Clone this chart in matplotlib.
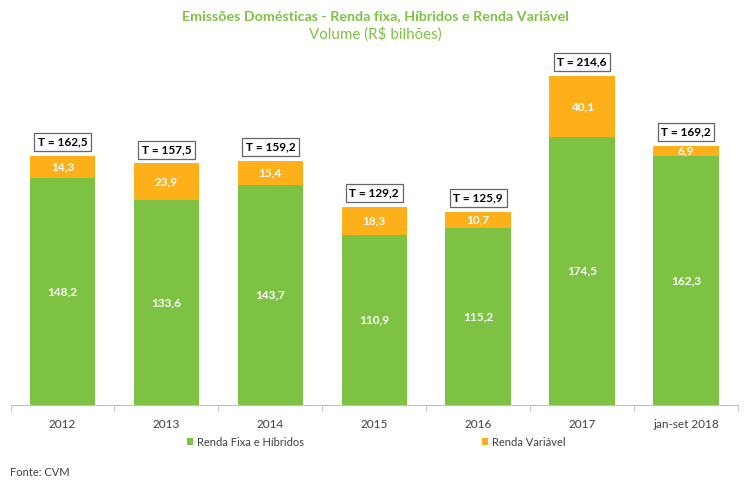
import matplotlib.pyplot as plt
import numpy as np

categorias = ["2012", "2013", "2014", "2015", "2016", "2017", "jan-set 2018"]
renda_fixa = [148.2, 133.6, 143.7, 110.9, 115.2, 174.5, 162.3]
renda_variavel = [14.3, 23.9, 15.4, 18.3, 10.7, 40.1, 6.9]
totais = [162.5, 157.5, 159.2, 129.2, 125.9, 214.6, 169.2]

verde = "#7DC242"
laranja = "#FDB019"
cinza = "#404040"

plt.rcParams['font.family'] = ['Lato', 'DejaVu Sans']

fig = plt.figure(figsize=(7.5, 4.87), dpi=100)
ax = fig.add_axes([10.5/750, 1 - 405/487, 727.5/750, 355/487])

x = np.arange(len(categorias))
b1 = ax.bar(x, renda_fixa, width=0.63, color=verde, label="Renda Fixa e Híbridos")
b2 = ax.bar(x, renda_variavel, width=0.63, bottom=renda_fixa, color=laranja, label="Renda Variável")

def fmt(v):
    return f"{v:.1f}".replace(".", ",")

for i in range(len(categorias)):
    ax.text(x[i], renda_fixa[i] / 2, fmt(renda_fixa[i]),
            ha="center", va="center", color="white", fontweight="bold", fontsize=8.5)
    ax.text(x[i], renda_fixa[i] + renda_variavel[i] / 2, fmt(renda_variavel[i]),
            ha="center", va="center", color="white", fontweight="bold", fontsize=8.5)
    ax.text(x[i], totais[i] + 9, "T = " + fmt(totais[i]),
            ha="center", va="center", color="black", fontweight="bold", fontsize=8.5,
            bbox=dict(boxstyle="square,pad=0.3", fc="white", ec="#666666", lw=0.9))

ax.set_xlim(-0.5, len(categorias) - 0.5)
ax.set_ylim(0, 231.5)
for s in ["top", "right", "left"]:
    ax.spines[s].set_visible(False)
ax.spines["bottom"].set_color("#BFBFBF")
ax.set_yticks([])
ax.set_xticks(x)
ax.set_xticklabels(categorias, fontsize=8.5, color=cinza)
ax.tick_params(axis="x", length=0, pad=10)
ax.set_xticks(np.arange(-0.5, len(categorias)), minor=True)
ax.tick_params(axis="x", which="minor", length=5, color="#BFBFBF")

fig.text(0.5, 0.968, "Emissões Domésticas - Renda fixa, Híbridos e Renda Variável",
         ha="center", va="center", color=verde, fontweight="bold", fontsize=10.3)
fig.text(0.5, 0.930, "Volume (R$ bilhões)", ha="center", va="center", color=verde, fontsize=10.9)

fig.legend(handles=[b1, b2], loc="center", bbox_to_anchor=(376/750, 1 - 442/487), ncol=2,
           frameon=False, fontsize=8, handlelength=0.6, handleheight=0.6,
           handletextpad=0.3, columnspacing=16, labelcolor=cinza)

fig.text(10/750, 1 - 473/487, "Fonte: CVM", ha="left", va="center", fontsize=8, color=cinza)

fig.savefig("out.png", dpi=100, facecolor="white")
